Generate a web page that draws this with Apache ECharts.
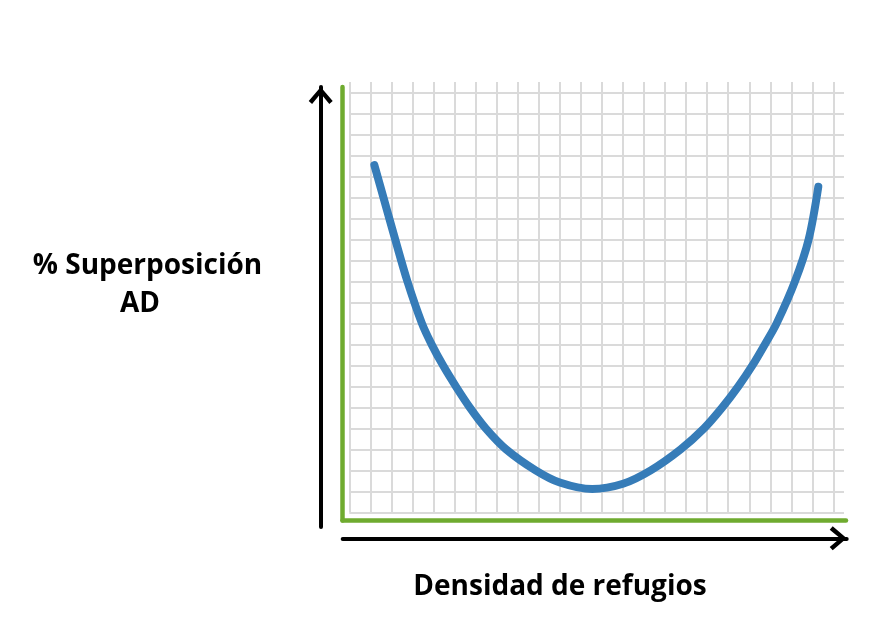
<!DOCTYPE html>
<html>
<head>
<meta charset="utf-8">
<script src="https://cdn.jsdelivr.net/npm/echarts@6/dist/echarts.min.js"></script>
<style>html,body{margin:0;padding:0;background:#fff;}#c{width:875px;height:622px;}</style>
</head>
<body>
<div id="c"></div>
<script>
// Data (grid units: one cell = 1)
const densidad = [1.19, 1.62, 2.18, 2.76, 3.45, 3.91, 4.45, 5.06, 5.72, 6.48, 7.45, 8.85, 10.0, 11.54, 13.0, 14.32, 15.74, 16.85, 17.72, 18.48, 19.15, 19.74, 20.30, 21.17, 21.82, 22.28];
const superposicion = [16.54, 15, 13, 11, 9, 8, 7, 6, 5, 4, 3, 2, 1.42, 1.11, 1.36, 2, 3, 4, 5, 6, 7, 8, 9, 11, 13, 15.51];
const yTitleLines = ['% Superposición', 'AD'];
const xTitle = 'Densidad de refugios';

const chart = echarts.init(document.getElementById('c'), null, {renderer: 'canvas'});
const seriesData = densidad.map((x, i) => [x, superposicion[i]]);
const chevron = 'path://M12 0 L24 14 L20.6 17 L12 6.6 L3.4 17 L0 14 Z';
const font = 'bold 28px "Open Sans"';
const hidden = {show: false};

chart.setOption({
  animation: false,
  backgroundColor: '#ffffff',
  grid: [
    {left: 349.3, right: 31, top: 82, bottom: 109.7},
    {left: 342.5, right: 29, top: 87, bottom: 101.5},
    {left: 320.7, width: 10, top: 87, bottom: 95},
    {left: 342.7, right: 28.3, height: 10, bottom: 83.7}
  ],
  xAxis: [
    {gridIndex: 0, type: 'value', min: 0, max: 23.5, interval: 1,
     axisLine: hidden, axisTick: hidden, axisLabel: hidden,
     splitLine: {show: true, showMinLine: true, showMaxLine: false, lineStyle: {color: '#dadada', width: 2}}},
    {gridIndex: 1, type: 'value', min: 0, max: 1,
     axisLine: {show: true, onZero: false, lineStyle: {color: '#6fab2f', width: 4.5}},
     axisTick: hidden, axisLabel: hidden, splitLine: hidden},
    {gridIndex: 2, type: 'value', min: 0, max: 1, show: false},
    {gridIndex: 3, type: 'value', min: 0, max: 1,
     axisLine: {show: true, onZero: false, symbol: ['none', chevron], symbolSize: [24, 17], symbolOffset: [0, -8.5],
                lineStyle: {color: '#000000', width: 4}},
     axisTick: hidden, axisLabel: hidden, splitLine: hidden}
  ],
  yAxis: [
    {gridIndex: 0, type: 'value', min: 0, max: 20.5, interval: 1,
     axisLine: hidden, axisTick: hidden, axisLabel: hidden,
     splitLine: {show: true, showMinLine: true, showMaxLine: false, lineStyle: {color: '#dadada', width: 2}}},
    {gridIndex: 1, type: 'value', min: 0, max: 1,
     axisLine: {show: true, onZero: false, lineStyle: {color: '#6fab2f', width: 4.5}},
     axisTick: hidden, axisLabel: hidden, splitLine: hidden},
    {gridIndex: 2, type: 'value', min: 0, max: 1,
     axisLine: {show: true, onZero: false, symbol: ['none', chevron], symbolSize: [24, 17], symbolOffset: [0, -8.5],
                lineStyle: {color: '#000000', width: 4}},
     axisTick: hidden, axisLabel: hidden, splitLine: hidden},
    {gridIndex: 3, type: 'value', min: 0, max: 1, show: false}
  ],
  series: [{
    type: 'line',
    xAxisIndex: 0, yAxisIndex: 0,
    data: seriesData,
    smooth: 0.33,
    showSymbol: false,
    lineStyle: {color: '#367cb8', width: 8, cap: 'round', join: 'round'},
    z: 5
  }],
  graphic: [
    {type: 'text', x: 147.5, y: 266, style: {text: yTitleLines[0], font: font, fill: '#000', textAlign: 'center', textVerticalAlign: 'middle'}},
    {type: 'text', x: 140, y: 304, style: {text: yTitleLines[1], font: font, fill: '#000', textAlign: 'center', textVerticalAlign: 'middle'}},
    {type: 'text', x: 560, y: 587, style: {text: xTitle, font: font, fill: '#000', textAlign: 'center', textVerticalAlign: 'middle'}}
  ]
});
</script>
</body>
</html>
